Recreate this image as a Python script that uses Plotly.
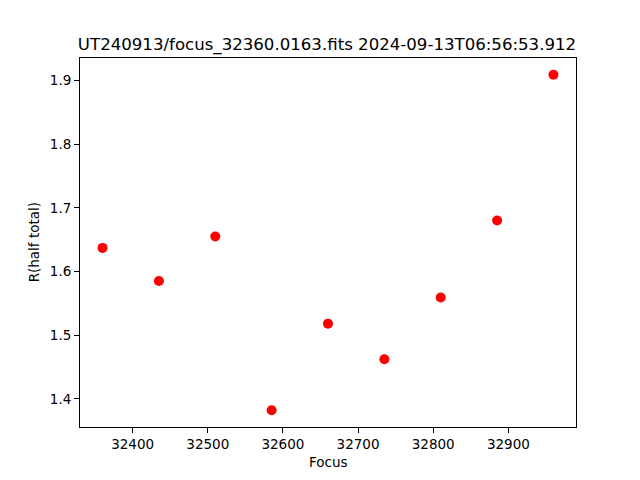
import plotly.graph_objects as go

focus = [32360, 32435, 32510, 32585, 32660, 32735, 32810, 32885, 32960]
r_half = [1.637, 1.585, 1.655, 1.382, 1.518, 1.462, 1.559, 1.680, 1.909]
x_ticks = [32400, 32500, 32600, 32700, 32800, 32900]
y_ticks = [1.4, 1.5, 1.6, 1.7, 1.8, 1.9]
title = "UT240913/focus_32360.0163.fits 2024-09-13T06:56:53.912"

font = "DejaVu Sans"
W, H = 632, 472  # page body has an 8px margin

fig = go.Figure()
fig.add_trace(go.Scatter(x=focus, y=r_half, mode="markers",
                         marker=dict(color="red", size=10, line=dict(width=0))))

xspan = max(focus) - min(focus)
yspan = max(r_half) - min(r_half)

axis_common = dict(showgrid=False, zeroline=False, showline=True, linecolor="black",
                   linewidth=1, mirror=True, ticks="outside", ticklen=5, tickwidth=1,
                   tickcolor="black", tickfont=dict(family=font, size=13.5, color="black"))

fig.update_layout(
    width=W, height=H,
    margin=dict(l=72, r=64, t=50, b=53),
    plot_bgcolor="white", paper_bgcolor="white",
    showlegend=False,
    xaxis=dict(range=[min(focus) - 0.05 * xspan, max(focus) + 0.05 * xspan],
               tickvals=x_ticks, ticktext=[str(v) for v in x_ticks], **axis_common),
    yaxis=dict(range=[min(r_half) - 0.05 * yspan, max(r_half) + 0.05 * yspan],
               tickvals=y_ticks, ticktext=[f"{v:.1f}" for v in y_ticks], **axis_common),
    title=dict(text=title, x=319 / W, xanchor="center", y=1 - 36.5 / H, yanchor="middle",
               xref="container", yref="container",
               font=dict(family=font, size=16.6, color="black")),
    annotations=[
        dict(text="Focus", xref="paper", yref="paper", x=0.5, y=-0.095,
             xanchor="center", yanchor="middle", showarrow=False,
             font=dict(family=font, size=13.5, color="black")),
        dict(text="R(half total)", xref="paper", yref="paper", x=-0.093, y=0.5,
             xanchor="center", yanchor="middle", showarrow=False, textangle=-90,
             font=dict(family=font, size=13.5, color="black")),
    ],
)

fig.write_html("out.html")
